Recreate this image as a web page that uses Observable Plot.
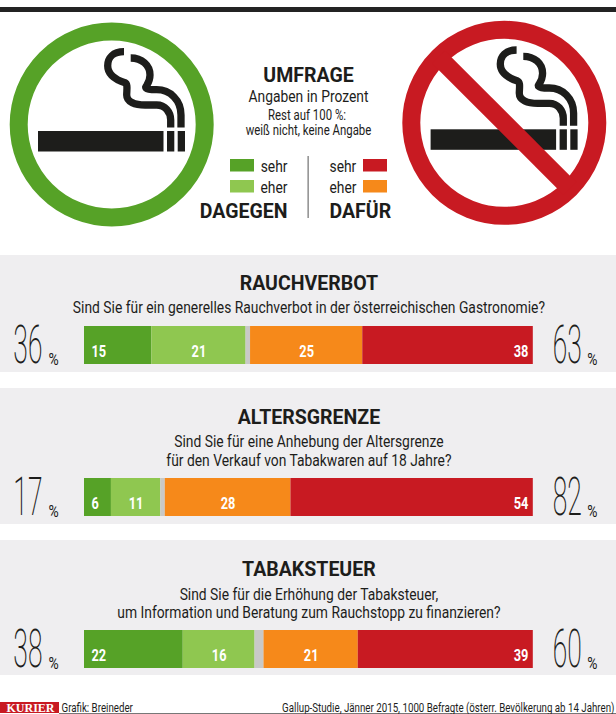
<!DOCTYPE html>
<html><head><meta charset="utf-8">
<script src="https://cdn.jsdelivr.net/npm/d3@7"></script>
<script src="https://cdn.jsdelivr.net/npm/@observablehq/plot@0.6"></script>
<style>html,body{margin:0;padding:0;background:#fff}svg{display:block}</style>
</head><body><div id="chart"></div>
<script>
const topics = ["RAUCHVERBOT", "ALTERSGRENZE", "TABAKSTEUER"];
const questions = [
  "Sind Sie für ein generelles Rauchverbot in der österreichischen Gastronomie?",
  "Sind Sie für eine Anhebung der Altersgrenze\nfür den Verkauf von Tabakwaren auf 18 Jahre?",
  "Sind Sie für die Erhöhung der Tabaksteuer,\num Information und Beratung zum Rauchstopp zu finanzieren?"
];
const veryAgainst = [15, 6, 22];
const ratherAgainst = [21, 11, 16];
const ratherFor = [25, 28, 21];
const veryFor = [38, 54, 39];
const kinds = ["sehr dagegen", "eher dagegen", "weiß nicht", "eher dafür", "sehr dafür"];
const colors = ["#56a227", "#8fc750", "#c9c9c7", "#f6891a", "#c81a22"];
const INK = "#1d1d1b";
const FONT = "Roboto";

const segments = topics.flatMap((topic, i) => {
  const vals = [veryAgainst[i], ratherAgainst[i], 100 - veryAgainst[i] - ratherAgainst[i] - ratherFor[i] - veryFor[i], ratherFor[i], veryFor[i]];
  let sum = 0;
  return vals.map((value, k) => { const start = sum; sum += value; return {topic, kind: kinds[k], k, value, start, end: sum}; });
});
const rows = topics.map((topic, i) => ({topic, question: questions[i], against: veryAgainst[i] + ratherAgainst[i], pro: ratherFor[i] + veryFor[i]}));

function iconBase(g, ringColor) {
  g.append("circle").attr("cx", 111.7).attr("cy", 124.5).attr("r", 93).attr("fill", "#fff").attr("stroke", ringColor).attr("stroke-width", 18);
  g.append("rect").attr("x", 38).attr("y", 131).attr("width", 125.5).attr("height", 20.5).attr("fill", INK);
  g.append("rect").attr("x", 167).attr("y", 131).attr("width", 7.3).attr("height", 20.5).attr("fill", INK);
  g.append("rect").attr("x", 177.7).attr("y", 131).attr("width", 7.3).attr("height", 20.5).attr("fill", INK);
  const smoke = [
    "M124,51.7 C113,51.7 107.7,58 107.7,65.7 C107.7,75 116.7,80 125,82.7 C128,84 126.7,90 126.7,95 C126.7,102 135,105 145,105 L156.7,105 C165,105 170.7,112 170.7,120 L170.7,127.5",
    "M130.7,58 C141.7,58 150,65 150,75 C150,82 146.7,85 145.7,87.3 C145.7,89.3 150,89.7 156.7,89.7 C170,89.7 181,100 181,115 L181,127.5"
  ];
  smoke.forEach(d => g.append("path").attr("d", d).attr("fill", "none").attr("stroke", INK).attr("stroke-width", 7.3));
}

function graphics() {
  const root = d3.create("svg:g");
  root.append("rect").attr("x", 0).attr("y", 7).attr("width", 616).attr("height", 5).attr("fill", "#232323");
  iconBase(root.append("g"), colors[0]);
  const right = root.append("g").attr("transform", "translate(392.6,-1.7)");
  iconBase(right, colors[4]);
  const c = 93 * Math.SQRT1_2;
  right.append("line").attr("x1", 111.7 - c).attr("y1", 124.5 - c).attr("x2", 111.7 + c).attr("y2", 124.5 + c).attr("stroke", colors[4]).attr("stroke-width", 18);
  [[230, 159, 0], [230, 180, 1], [363, 159, 4], [363, 180, 3]].forEach(([x, y, k]) =>
    root.append("rect").attr("x", x).attr("y", y).attr("width", 24).attr("height", 12.5).attr("fill", colors[k]));
  root.append("rect").attr("x", 307.6).attr("y", 156).attr("width", 1).attr("height", 62).attr("fill", "#555");
  root.append("rect").attr("x", 0).attr("y", 702).attr("width", 59).attr("height", 11).attr("fill", colors[4]);
  root.append("rect").attr("x", 59).attr("y", 713).attr("width", 557).attr("height", 1).attr("fill", "#777");
  return root.node();
}

function label(text, x, y, o = {}) {
  return Plot.text([text], {
    text: d => d, frameAnchor: "top-left", dx: x, dy: y, lineAnchor: "middle",
    fill: INK, fontFamily: FONT, fontSize: 13, textAnchor: "middle", ...o
  });
}

const bandInsets = [[71, 8], [90, 8], [90, 7]];

const plot = Plot.plot({
  width: 616, height: 714, margin: 0,
  style: {background: "transparent", fontFamily: FONT},
  x: {domain: [0, 100], range: [84, 532.8], axis: null},
  y: {domain: topics, range: [326, 668], paddingInner: 0.75, paddingOuter: 0, align: 0, axis: null},
  color: {domain: kinds, range: colors},
  marks: [
    graphics,
    ...topics.map((t, i) => Plot.barX([t], {y: d => d, x1: () => -30, x2: () => 130, fill: "#efeef0", insetTop: -bandInsets[i][0], insetBottom: -bandInsets[i][1]})),
    Plot.barX(segments, {y: "topic", x1: "start", x2: "end", fill: "kind"}),

    // value labels inside the bars
    Plot.text(segments.filter(d => d.k === 0), {x: "start", y: "topic", text: "value", dx: 7, dy: 6.5, textAnchor: "start", fill: "#fff", fontWeight: 700, fontSize: 16, className: "num"}),
    Plot.text(segments.filter(d => d.k === 1 || d.k === 3), {x: d => (d.start + d.end) / 2, y: "topic", text: "value", dy: 6.5, fill: "#fff", fontWeight: 700, fontSize: 16, className: "num"}),
    Plot.text(segments.filter(d => d.k === 4), {x: "end", y: "topic", text: "value", dx: -5, dy: 6.5, textAnchor: "end", fill: "#fff", fontWeight: 700, fontSize: 16, className: "num"}),

    // section titles and questions
    ...topics.map((t, i) => Plot.text([rows[i]], {x: () => 50, y: "topic", text: "topic", dy: [-62, -80.5, -80][i], fontWeight: 700, fontSize: 21, fill: INK, className: "head"})),
    ...topics.map((t, i) => Plot.text([rows[i]], {x: () => 50, y: "topic", text: "question", dy: [-38, -47, -46.5][i], fontSize: 17, lineHeight: 1.08, fill: INK, className: "quest"})),

    // totals
    Plot.text(rows, {x: () => 0, y: "topic", text: "against", dx: -42, dy: 1, textAnchor: "end", fontSize: 53, fontWeight: 200, fill: INK, className: "big"}),
    Plot.text(rows, {x: () => 100, y: "topic", text: "pro", dx: 48.5, dy: 1, textAnchor: "end", fontSize: 53, fontWeight: 200, fill: INK, className: "big"}),
    Plot.text(rows, {x: () => 0, y: "topic", text: () => "%", dx: -36, dy: 14, textAnchor: "start", fontSize: 17, fill: INK, className: "pct"}),
    Plot.text(rows, {x: () => 100, y: "topic", text: () => "%", dx: 54, dy: 14, textAnchor: "start", fontSize: 17, fill: INK, className: "pct"}),

    // header block
    label("UMFRAGE", 308, 74.5, {fontWeight: 700, fontSize: 21, className: "head"}),
    label("Angaben in Prozent", 308, 96, {fontSize: 17, className: "quest"}),
    label("Rest auf 100 %:", 306.5, 115, {fontSize: 14, className: "quest"}),
    label("weiß nicht, keine Angabe", 308, 130, {fontSize: 14, className: "quest"}),
    label("sehr", 287, 166, {fontSize: 17, textAnchor: "end", className: "quest"}),
    label("eher", 287, 187, {fontSize: 17, textAnchor: "end", className: "quest"}),
    label("sehr", 329, 166, {fontSize: 17, textAnchor: "start", className: "quest"}),
    label("eher", 329, 187, {fontSize: 17, textAnchor: "start", className: "quest"}),
    label("DAGEGEN", 287, 211, {fontSize: 21, fontWeight: 700, textAnchor: "end", className: "head"}),
    label("DAFÜR", 329, 211, {fontSize: 21, fontWeight: 700, textAnchor: "start", className: "head"}),

    // footer
    label("KURIER", 30, 707.5, {fontFamily: "Liberation Serif", fontWeight: 700, fontSize: 12, fill: "#fff", letterSpacing: 1}),
    label("Grafik: Breineder", 61, 707, {fontSize: 12.5, textAnchor: "start", className: "foot"}),
    label("Gallup-Studie, Jänner 2015, 1000 Befragte (österr. Bevölkerung ab 14 Jahren)", 614, 707, {fontSize: 12.5, textAnchor: "end", className: "foot"})
  ]
});

const squeeze = {num: 0.8, head: 0.93, quest: 0.815, big: 0.5, pct: 0.82, foot: 0.78};
for (const [cls, sx] of Object.entries(squeeze)) {
  d3.select(plot).selectAll(`g.${cls} text, .${cls}`).filter(function () { return this.tagName === "text"; })
    .attr("transform", function () { return (this.getAttribute("transform") || "") + ` scale(${sx},1)`; });
}
document.getElementById("chart").append(plot);
</script></body></html>
